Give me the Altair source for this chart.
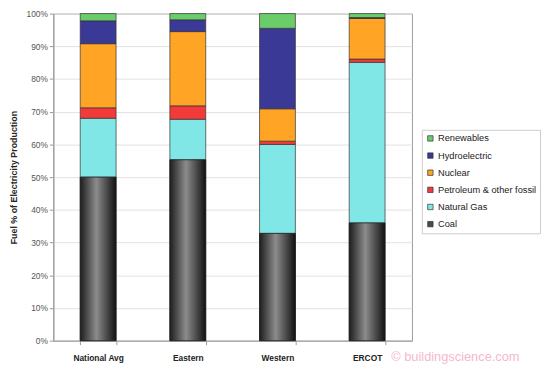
import altair as alt
import pandas as pd

regions = ["National Avg", "Eastern", "Western", "ERCOT"]
fuels = ["Coal", "Natural Gas", "Petroleum & other fossil", "Nuclear", "Hydroelectric", "Renewables"]
coal = [50.0, 55.3, 32.8, 36.0]
gas = [18.0, 12.4, 27.2, 49.1]
petro = [3.2, 4.1, 1.0, 1.0]
nuclear = [19.6, 22.7, 9.9, 12.4]
hydro = [7.0, 3.6, 24.6, 0.3]
renew = [2.2, 1.9, 4.5, 1.2]
y_ticks = [0, 10, 20, 30, 40, 50, 60, 70, 80, 90, 100]
colors = ["#4a4a4a", "#80e6e6", "#f23a3a", "#ffa424", "#3a3a96", "#6acd6a"]
watermark = "© buildingscience.com"

series = [coal, gas, petro, nuclear, hydro, renew]
rows = []
for fi, (fuel, vals) in enumerate(zip(fuels, series)):
    for r, v in zip(regions, vals):
        rows.append({"region": r, "fuel": fuel, "order": fi, "value": v})
df = pd.DataFrame(rows)

FONT = "Liberation Sans"

x_enc = alt.X("region:N", sort=regions, title=None,
              scale=alt.Scale(paddingInner=0.6, paddingOuter=0.3),
              axis=alt.Axis(labelAngle=0, labelFontWeight="bold", labelFontSize=8.5,
                            labelColor="#222", labelFont=FONT, labelPadding=9,
                            tickBand="extent", tickSize=4, tickColor="#999",
                            domainColor="#999"))
y_axis = alt.Axis(values=y_ticks, labelExpr="datum.value + '%'", labelOverlap=False,
                  title="Fuel % of Electricity Production",
                  titleFontWeight="bold", titleFontSize=9, titleColor="#222",
                  titleFont=FONT, titlePadding=8,
                  labelFontSize=8.5, labelColor="#555", labelFont=FONT,
                  tickSize=4, tickColor="#999", domainColor="#999",
                  gridColor="#e2e2e2")
y_scale = alt.Scale(domain=[0, 100], nice=False)

bars = alt.Chart(df).mark_bar(stroke="#333", strokeWidth=0.7).encode(
    x=x_enc,
    y=alt.Y("value:Q", stack="zero", scale=y_scale, axis=y_axis),
    order=alt.Order("order:Q", sort="ascending"),
    color=alt.Color("fuel:N", title=None,
                    scale=alt.Scale(domain=fuels[::-1], range=colors[::-1]),
                    legend=alt.Legend(orient="none", legendX=374, legendY=118,
                                      labelFont=FONT, labelFontSize=9.4, labelColor="#222",
                                      symbolType="square", symbolSize=30,
                                      symbolStrokeColor="#333", symbolStrokeWidth=0.7,
                                      labelOffset=3,
                                      rowPadding=6.4, strokeColor="#ccc", padding=4,
                                      labelLimit=200)),
)

coal_layer = alt.Chart(df).transform_filter(alt.datum.fuel == "Coal").mark_bar(
    stroke="#222", strokeWidth=0.7,
    color=alt.Gradient(gradient="linear", x1=0, x2=1, y1=0, y2=0,
                       stops=[alt.GradientStop(offset=0, color="#1e1e1e"),
                              alt.GradientStop(offset=0.45, color="#8c8c8c"),
                              alt.GradientStop(offset=1, color="#111111")])
).encode(x=x_enc, y=alt.Y("value:Q", scale=y_scale, axis=y_axis))

wm = alt.Chart(pd.DataFrame({"t": [watermark]})).mark_text(
    align="left", baseline="middle", fontSize=13, font=FONT, color="#f5b8cc"
).encode(text="t:N", x=alt.value(343), y=alt.value(349))

chart = alt.layer(bars, coal_layer, wm).properties(
    width=364, height=332, autosize="none",
    padding={"left": 46, "top": 3, "right": 132, "bottom": 22},
).configure_view(stroke="#999", strokeWidth=1)

chart.save("out.html", embed_options={"renderer": "svg", "actions": False})
